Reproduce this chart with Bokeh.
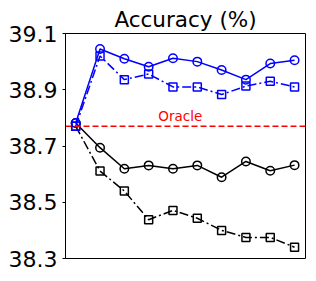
from bokeh.plotting import figure
from bokeh.models import Range1d, FixedTicker, Span, Label
from bokeh.embed import file_html
from bokeh.resources import INLINE

steps = [1, 2, 3, 4, 5, 6, 7, 8, 9, 10]
blue_circle = [38.782, 39.045, 39.010, 38.982, 39.012, 39.000, 38.970, 38.936, 38.993, 39.005]
blue_square = [38.770, 39.020, 38.936, 38.956, 38.910, 38.910, 38.883, 38.913, 38.930, 38.910]
black_circle = [38.782, 38.694, 38.619, 38.631, 38.619, 38.631, 38.589, 38.645, 38.612, 38.632]
black_square = [38.770, 38.611, 38.540, 38.438, 38.471, 38.443, 38.400, 38.375, 38.375, 38.340]
oracle = 38.77
y_ticks = [38.3, 38.5, 38.7, 38.9, 39.1]
title_text = "Accuracy (%)"
oracle_text = "Oracle"

p = figure(width=310, height=275, output_backend="svg", toolbar_location=None,
           x_range=Range1d(0.58, 10.45), y_range=Range1d(38.3, 39.1),
           min_border_left=65, min_border_right=5, min_border_top=33, min_border_bottom=17)

p.title.text = title_text
p.title.align = "center"
p.title.text_font = "DejaVu Sans"
p.title.text_font_size = "21.5px"
p.title.text_font_style = "normal"
p.title.text_color = "black"
p.title.offset = 0
p.title.standoff = 3

p.xaxis.visible = False
p.grid.visible = False
p.outline_line_color = "black"
p.outline_line_width = 1
p.outline_line_alpha = 1

ax = p.yaxis[0]
ax.ticker = FixedTicker(ticks=y_ticks)
ax.major_label_text_font = "DejaVu Sans"
ax.major_label_text_font_size = "22px"
ax.major_label_text_color = "black"
ax.major_tick_out = 3
ax.major_tick_in = 0
ax.minor_tick_out = 0
ax.minor_tick_in = 0
ax.major_label_standoff = 5
ax.axis_line_color = "black"
ax.major_tick_line_color = "black"

p.add_layout(Span(location=oracle, dimension="width", line_color="red",
                  line_dash="6 3", line_width=1.5))
p.add_layout(Label(x=5.3, y=oracle, text=oracle_text, text_color="red",
                   text_font="DejaVu Sans", text_font_size="13.5px",
                   text_align="center", text_baseline="bottom", y_offset=2))

lw = 1.5
p.line(steps, black_square, line_color="black", line_width=lw, line_dash="9 3 2 3")
p.scatter(steps, black_square, marker="square", size=8, fill_color=None,
          line_color="black", line_width=lw)
p.line(steps, black_circle, line_color="black", line_width=lw)
p.scatter(steps, black_circle, marker="circle", size=8.5, fill_color=None,
          line_color="black", line_width=lw)
p.line(steps, blue_square, line_color="blue", line_width=lw, line_dash="9 3 2 3")
p.scatter(steps, blue_square, marker="square", size=8, fill_color=None,
          line_color="blue", line_width=lw)
p.line(steps, blue_circle, line_color="blue", line_width=lw)
p.scatter(steps, blue_circle, marker="circle", size=8.5, fill_color=None,
          line_color="blue", line_width=lw)

open("out.html", "w").write(file_html(p, INLINE))
